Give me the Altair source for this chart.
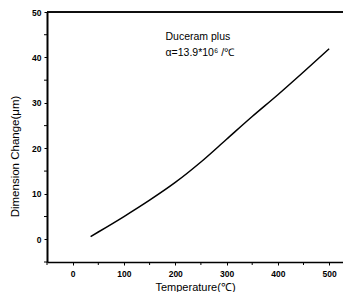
import altair as alt
import pandas as pd

temps = [35, 50, 100, 150, 200, 250, 300, 350, 400, 450, 500]
change = [0.6, 1.6, 5.0, 8.6, 12.5, 17.0, 22.0, 27.0, 31.8, 36.8, 41.9]

ann_x = [181, 181]
ann_y = [44.6, 40.9]
ann_text = ["Duceram plus", "α=13.9*10⁶ /℃"]

x_major = [0, 100, 200, 300, 400, 500]
x_minor = [-50, 50, 150, 250, 350, 450]
y_major = [0, 10, 20, 30, 40, 50]
y_minor = [-5, 5, 15, 25, 35, 45]

W, H = 296, 250
FONT = "Liberation Sans"

df = pd.DataFrame({"T": temps, "D": change})
ann = pd.DataFrame({"x": ann_x, "y": ann_y, "t": ann_text})
xm = pd.DataFrame({"v": x_minor})
ym = pd.DataFrame({"v": y_minor})

xs = alt.Scale(domain=[-50, 527], nice=False, zero=False)
ys = alt.Scale(domain=[-5, 50], nice=False, zero=False)

line = alt.Chart(df).mark_line(color="black", strokeWidth=1.5, interpolate="monotone").encode(
    x=alt.X("T:Q", scale=xs, title="Temperature(℃)",
            axis=alt.Axis(values=x_major, format="d",
                          grid=False, domainColor="black", domainWidth=1.5,
                          tickColor="black", tickSize=3, labelFont=FONT, labelFontSize=8.5,
                          labelFontWeight="bold", labelColor="black", labelPadding=4,
                          titleFont=FONT, titleFontSize=11, titleFontWeight="normal",
                          titleColor="black", titlePadding=4)),
    y=alt.Y("D:Q", scale=ys, title="Dimension Change(μm)",
            axis=alt.Axis(values=y_major, format="d",
                          grid=False, domainColor="black", domainWidth=2,
                          tickColor="black", tickSize=3, labelFont=FONT, labelFontSize=8.5,
                          labelFontWeight="bold", labelColor="black", labelPadding=3,
                          titleFont=FONT, titleFontSize=11.5, titleFontWeight="normal",
                          titleColor="black", titleY=144, titleX=-27)),
)

xminor = alt.Chart(xm).mark_rule(color="black", strokeWidth=1).encode(
    x=alt.X("v:Q", scale=xs), y=alt.value(H), y2=alt.value(H + 3))
yminor = alt.Chart(ym).mark_rule(color="black", strokeWidth=1).encode(
    y=alt.Y("v:Q", scale=ys), x=alt.value(0), x2=alt.value(-3))

text = alt.Chart(ann).mark_text(align="left", baseline="middle", font=FONT,
                                fontSize=10.5, color="black").encode(
    x=alt.X("x:Q", scale=xs), y=alt.Y("y:Q", scale=ys), text="t:N")

top = alt.Chart(ann).mark_rule(color="black", strokeWidth=1.5).encode(
    x=alt.value(0), x2=alt.value(W), y=alt.value(0))

chart = alt.layer(line, xminor, yminor, text, top).properties(
    width=W, height=H,
    autosize=alt.AutoSizeParams(type="none"),
    padding={"left": 39, "top": 4, "right": 0, "bottom": 30},
).configure_view(stroke=None).configure(background="white")

chart.save("out.html", embed_options={"renderer": "svg", "actions": False})
